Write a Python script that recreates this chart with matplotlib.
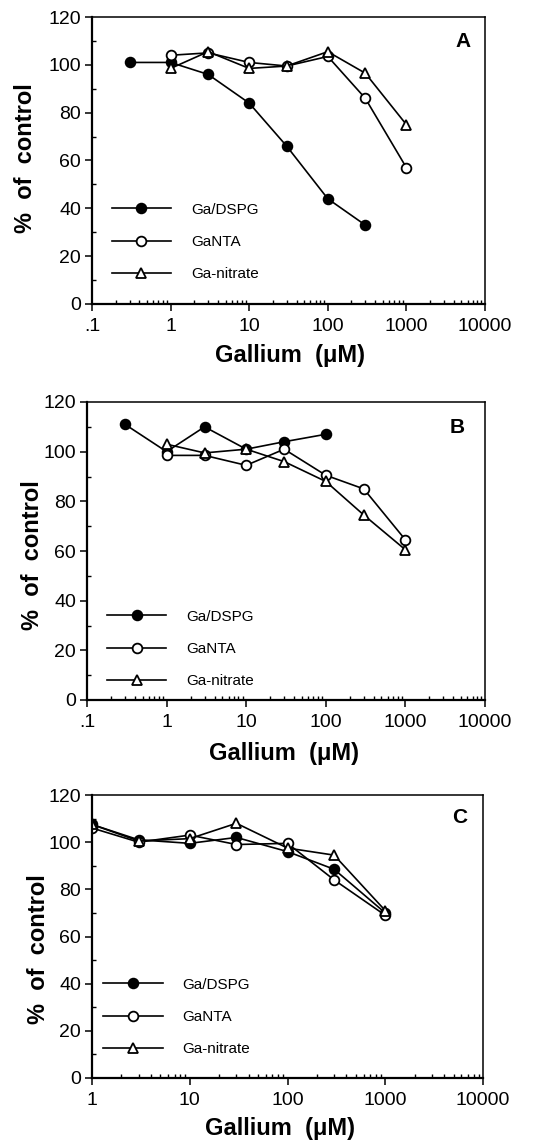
import matplotlib
matplotlib.use("Agg")
import matplotlib.pyplot as plt
from matplotlib.ticker import LogLocator, NullFormatter, MultipleLocator

plt.rcParams['font.family'] = ['Liberation Sans', 'DejaVu Sans']

# ---------------- data ----------------
series_names = ["Ga/DSPG", "GaNTA", "Ga-nitrate"]

# Panel A
a_dspg_x = [0.3, 1, 3, 10, 30, 100, 300]
a_dspg_y = [101, 101, 96, 84, 66, 44, 33]
a_nta_x = [1, 3, 10, 30, 100, 300, 1000]
a_nta_y = [104, 105, 101, 99.5, 103.5, 86, 57]
a_nit_x = [1, 3, 10, 30, 100, 300, 1000]
a_nit_y = [98.5, 105.5, 98.5, 99.5, 105.5, 96.5, 75]

# Panel B
b_dspg_x = [0.3, 1, 3, 10, 30, 100]
b_dspg_y = [111, 100, 110, 101, 104, 107]
b_nta_x = [1, 3, 10, 30, 100, 300, 1000]
b_nta_y = [98.5, 98.5, 94.5, 101, 90.5, 85, 64.5]
b_nit_x = [1, 3, 10, 30, 100, 300, 1000]
b_nit_y = [103, 99.5, 101, 96, 88, 74.5, 60.5]

# Panel C
c_dspg_x = [1, 3, 10, 30, 100, 300, 1000]
c_dspg_y = [107.5, 101, 99.5, 102, 96, 88.5, 70]
c_nta_x = [1, 3, 10, 30, 100, 300, 1000]
c_nta_y = [106, 100, 103, 99, 99.5, 84, 69]
c_nit_x = [1, 3, 10, 30, 100, 300, 1000]
c_nit_y = [107.5, 100.5, 101.5, 108, 97.5, 94.5, 71]

xticks_ab = [0.1, 1, 10, 100, 1000, 10000]
xticklabels_ab = [".1", "1", "10", "100", "1000", "10000"]
xticks_c = [1, 10, 100, 1000, 10000]
xticklabels_c = ["1", "10", "100", "1000", "10000"]
yticks = [0, 20, 40, 60, 80, 100, 120]
panel_letters = ["A", "B", "C"]

# ---------------- figure ----------------
fig = plt.figure(figsize=(5.56, 11.4), dpi=100)

W, H = 556.0, 1140.0
def rect(l, r, t, b):
    return [l / W, 1 - b / H, (r - l) / W, (b - t) / H]

ax_rects = [rect(92, 485, 17, 304), rect(87, 485, 402, 700), rect(92, 483, 795, 1078)]
legend_anchor = [(0.05, 0.216), (0.05, 0.171), (0.028, 0.216)]
letter_pos = [(0.944, 0.913), (0.93, 0.916), (0.94, 0.922)]
ylabel_pos = [(-0.17, 0.51), (-0.138, 0.487), (-0.138, 0.456)]
xlabel_pos = [(0.504, -0.181), (0.495, -0.178), (0.48, -0.177)]

panels = [
    ((a_dspg_x, a_dspg_y), (a_nta_x, a_nta_y), (a_nit_x, a_nit_y)),
    ((b_dspg_x, b_dspg_y), (b_nta_x, b_nta_y), (b_nit_x, b_nit_y)),
    ((c_dspg_x, c_dspg_y), (c_nta_x, c_nta_y), (c_nit_x, c_nit_y)),
]

styles = [
    dict(marker='o', markerfacecolor='black', markersize=7),
    dict(marker='o', markerfacecolor='white', markersize=7),
    dict(marker='^', markerfacecolor='white', markersize=7),
]

for i, (r, data) in enumerate(zip(ax_rects, panels)):
    ax = fig.add_axes(r)
    for (xs, ys), st, name in zip(data, styles, series_names):
        ax.plot(xs, ys, color='black', lw=1.2, markeredgecolor='black',
                markeredgewidth=1.3, label=name, **st)
    ax.set_xscale('log')
    if i < 2:
        ax.set_xlim(0.1, 10000)
        ax.set_xticks(xticks_ab)
        ax.set_xticklabels(xticklabels_ab)
    else:
        ax.set_xlim(1, 10000)
        ax.set_xticks(xticks_c)
        ax.set_xticklabels(xticklabels_c)
    ax.xaxis.set_minor_locator(LogLocator(base=10, subs=range(2, 10), numticks=20))
    ax.xaxis.set_minor_formatter(NullFormatter())
    ax.set_ylim(0, 120)
    ax.set_yticks(yticks)
    ax.yaxis.set_minor_locator(MultipleLocator(10))

    ax.tick_params(axis='both', which='major', direction='out', length=5,
                   width=1.1, labelsize=14, colors='black')
    ax.tick_params(axis='x', which='major', pad=5)
    ax.tick_params(axis='y', which='major', pad=3)
    ax.tick_params(axis='both', which='minor', direction='in', length=3, width=1.0)
    for sp in ax.spines.values():
        sp.set_linewidth(1.1)
    ax.spines['left'].set_linewidth(1.6)
    ax.spines['bottom'].set_linewidth(1.6)

    ax.set_ylabel("%  of  control", fontsize=17, fontweight='bold')
    ax.set_xlabel("Gallium  (μM)", fontsize=17, fontweight='bold')
    ax.yaxis.set_label_coords(*ylabel_pos[i])
    ax.xaxis.set_label_coords(*xlabel_pos[i])
    ax.yaxis.label.set_va('center')
    ax.xaxis.label.set_va('center')

    ax.text(letter_pos[i][0], letter_pos[i][1], panel_letters[i], transform=ax.transAxes,
            fontsize=15, fontweight='bold', ha='center', va='center')

    ax.legend(loc='center left', bbox_to_anchor=legend_anchor[i], frameon=False,
              fontsize=11, handlelength=3.9, handletextpad=1.3, labelspacing=1.2,
              borderpad=0, borderaxespad=0, numpoints=1)

fig.savefig("out.png", dpi=100)
